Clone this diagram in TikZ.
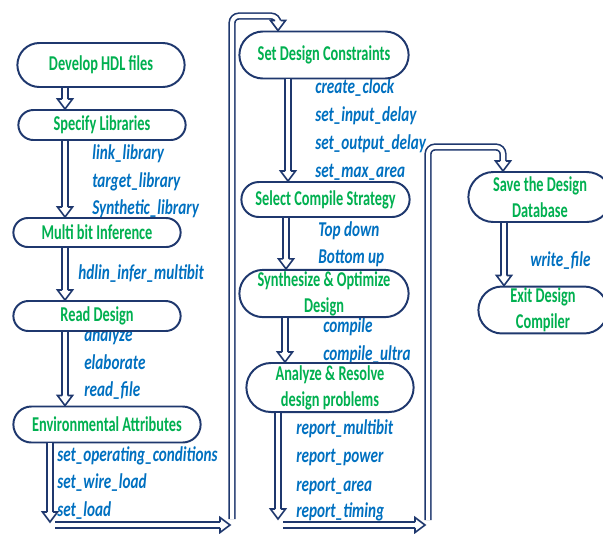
\documentclass[tikz,border=0pt]{standalone}
\usepackage{fontspec}
\setmainfont{Carlito}[FakeStretch=0.68]
\newfontfamily\cmdfont{Carlito}[FakeStretch=0.72]
\usepackage{xcolor}
\usepackage{tikz}
\usetikzlibrary{shapes.misc,positioning}
\definecolor{navy}{RGB}{31,56,110}
\definecolor{stepgreen}{RGB}{0,176,80}
\definecolor{cmdblue}{RGB}{0,112,192}
\tikzset{stage/.style={rounded rectangle,draw=navy,line width=1.4pt,fill=white,text=stepgreen,font=\bfseries\fontsize{15}{18.5}\selectfont,align=center,inner sep=1pt},
  cmd/.style={anchor=west,text=cmdblue,font=\cmdfont\bfseries\itshape\fontsize{15}{17}\selectfont,inner sep=0pt,text height=10.5pt,text depth=3.5pt},
  flow/.style={draw=navy,line width=1.15pt,double=white,double distance=2.85pt,shorten >=7.1pt},
  tiphead/.pic={\path[fill=white,draw=navy,line width=1.15pt] (-2.8,-10) -- (-7.5,-10) -- (0,0) -- (7.5,-10) -- (2.8,-10);}}

\begin{document}
\begin{tikzpicture}[x=0.025cm,y=-0.025cm]
    \useasboundingbox (0,0) rectangle (603,533);

    % commands
    \node[cmd] (lnk)at (92,155) {link\_library};
    \node[cmd] (tgt)at (92,183) {target\_library};
    \node[cmd] (syl)at (92,210) {Synthetic\_library};
    \node[cmd] (hdl)at (78,275) {hdlin\_infer\_multibit};
    \node[cmd] (ana)at (84,337) {analyze};
    \node[cmd] (ela)at (84,365) {elaborate};
    \node[cmd] (rdf)at (84,392) {read\_file};
    \node[cmd] (soc)at (57,457) {set\_operating\_conditions};
    \node[cmd] (swl)at (57,484) {set\_wire\_load};
    \node[cmd] (sld)at (57,512) {set\_load};
    \node[cmd] (clk)at (315,89) {create\_clock};
    \node[cmd] (sid)at (315,117) {set\_input\_delay};
    \node[cmd] (sod)at (315,145) {set\_output\_delay};
    \node[cmd] (sma)at (315,173) {set\_max\_area};
    \node[cmd] (tpd)at (318,232) {Top down};
    \node[cmd] (btu)at (318,259) {Bottom up};
    \node[cmd] (cmp)at (323,328) {compile};
    \node[cmd] (cmu)at (323,356) {compile\_ultra};
    \node[cmd] (rmb)at (296,430) {report\_multibit};
    \node[cmd] (rpw)at (296,458) {report\_power};
    \node[cmd] (rar)at (296,487) {report\_area};
    \node[cmd] (rtm)at (296,513) {report\_timing};
    \node[cmd] (wrf)at (530,262) {write\_file};

    % stages
    \node[stage,minimum width=4.25cm,minimum height=1.1cm] (dev)at (101,65) {Develop HDL files};
    \node[stage,minimum width=4.25cm,minimum height=0.75cm] (spec)at (102,125) {Specify Libraries};
    \node[stage,minimum width=4.25cm,minimum height=0.725cm] (mbi)at (97,232.5) {Multi bit Inference};
    \node[stage,minimum width=4.25cm,minimum height=0.75cm] (rd)at (97,316) {Read Design};
    \node[stage,minimum width=4.75cm,minimum height=0.9cm] (env)at (107,424.5) {Environmental Attributes};
    \node[stage,minimum width=4.3cm,minimum height=1.175cm] (sdc)at (324,55) {Set Design Constraints};
    \node[stage,minimum width=4.275cm,minimum height=0.875cm] (scs)at (325.5,199.5) {Select Compile Strategy};
    \node[stage,minimum width=4.3cm,minimum height=1.175cm] (syn)at (324,293.5) {Synthesize \& Optimize\\Design};
    \node[stage,minimum width=4.25cm,minimum height=1.225cm] (arp)at (330,387.5) {Analyze \& Resolve\\design problems};
    \node[stage,minimum width=3.65cm,minimum height=1.25cm] (save)at (540,197) {Save the Design\\Database};
    \node[stage,minimum width=3.3cm,minimum height=1.1cm] (exitdc)at (543,310) {Exit Design\\Compiler};

    % first column
    \coordinate (c1) at (65,0);
    \draw [flow] (dev.south-|c1) to [] (spec.north-|c1);
    \pic at (spec.north-|c1) {tiphead};
    \draw [flow] (spec.south-|c1) to [] (mbi.north-|c1);
    \pic at (mbi.north-|c1) {tiphead};
    \draw [flow] (mbi.south-|c1) to [] (rd.north-|c1);
    \pic at (rd.north-|c1) {tiphead};
    \draw [flow] (rd.south-|c1) to [] (env.north-|c1);
    \pic at (env.north-|c1) {tiphead};
    \coordinate (e1) at (50,522);
    \draw [flow] (env.south-|e1) to [] (e1);
    \pic at (e1) {tiphead};
    \coordinate (h1a) at (55,525);
    \coordinate (h1b) at (230,525);
    \draw [flow] (h1a) to [] (h1b);
    \pic[rotate=90] at (h1b) {tiphead};
    \coordinate (u1) at (232,519);
    \coordinate (t1) at (278,16);
    \draw [flow,rounded corners=5pt] (u1) |- (t1) -- (t1|-sdc.north);
    \pic at (t1|-sdc.north) {tiphead};

    % second column
    \coordinate (c2a) at (288,0);
    \coordinate (c2b) at (286,0);
    \coordinate (c2c) at (285,0);
    \draw [flow] (sdc.south-|c2a) to [] (scs.north-|c2a);
    \pic at (scs.north-|c2a) {tiphead};
    \draw [flow] (scs.south-|c2b) to [] (syn.north-|c2b);
    \pic at (syn.north-|c2b) {tiphead};
    \draw [flow] (syn.south-|c2c) to [] (arp.north-|c2c);
    \pic at (arp.north-|c2c) {tiphead};
    \coordinate (e2) at (278,519);
    \draw [flow] (arp.south-|e2) to [] (e2);
    \pic at (e2) {tiphead};
    \coordinate (h2a) at (283,525);
    \coordinate (h2b) at (425,525);
    \draw [flow] (h2a) to [] (h2b);
    \pic[rotate=90] at (h2b) {tiphead};
    \coordinate (u2) at (428,520);
    \coordinate (t2) at (503,147);
    \draw [flow,rounded corners=5pt] (u2) |- (t2) -- (t2|-save.north);
    \pic at (t2|-save.north) {tiphead};

    % third column
    \coordinate (c3) at (504,0);
    \draw [flow] (save.south-|c3) to [] (exitdc.north-|c3);
    \pic at (exitdc.north-|c3) {tiphead};
\end{tikzpicture}
\end{document}
